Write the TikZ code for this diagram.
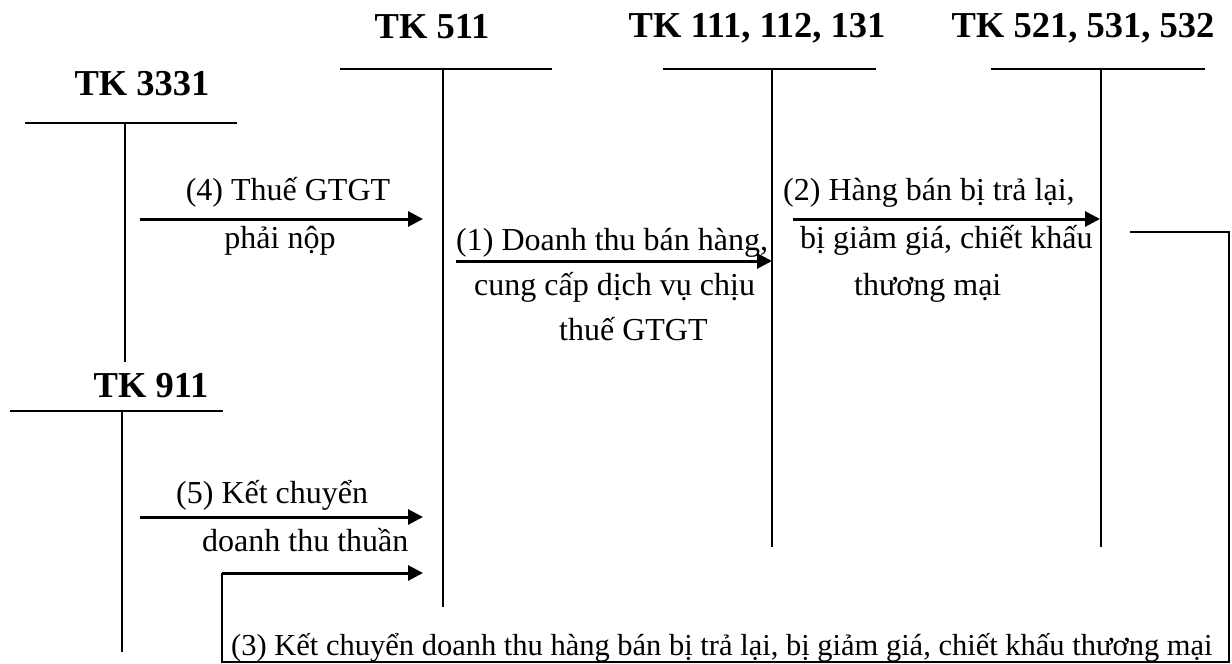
\documentclass[tikz,border=0pt]{standalone}
\usepackage{fontspec}
\setmainfont{Liberation Serif}
\usetikzlibrary{arrows.meta}
\begin{document}
\begin{tikzpicture}[x=1pt,y=-1pt,
  acct/.style={line width=2pt},
  flow/.style={line width=3pt,-{Triangle[length=15pt,width=15pt]}},
  loopline/.style={line width=2pt},
  title/.style={inner sep=0pt,anchor=base,font=\fontsize{36.5}{42}\selectfont\bfseries},
  lbl/.style={inner sep=0pt,anchor=base west,font=\fontsize{32}{38}\selectfont},
  lblc/.style={inner sep=0pt,anchor=base,font=\fontsize{32}{38}\selectfont}]
\useasboundingbox[fill=white] (0,0) rectangle (1232,664);

% account titles
\node[title] (t3331) at (142,95) {TK 3331};
\node[title] (t511)  at (432,38) {TK 511};
\node[title] (t111)  at (757,37) {TK 111, 112, 131};
\node[title] (t521)  at (1083,37) {TK 521, 531, 532};
\node[title] (t911)  at (151,397) {TK 911};

% T-accounts
\coordinate (a3331l) at (25,123);  \coordinate (a3331r) at (237,123);
\coordinate (a3331t) at (125,123); \coordinate (a3331b) at (125,362);
\coordinate (a511l) at (340,69);   \coordinate (a511r) at (552,69);
\coordinate (a511t) at (443,69);   \coordinate (a511b) at (443,607);
\coordinate (a111l) at (663,69);   \coordinate (a111r) at (876,69);
\coordinate (a111t) at (772,69);   \coordinate (a111b) at (772,547);
\coordinate (a521l) at (991,69);   \coordinate (a521r) at (1205,69);
\coordinate (a521t) at (1101,69);  \coordinate (a521b) at (1101,547);
\coordinate (a911l) at (10,411);   \coordinate (a911r) at (223,411);
\coordinate (a911t) at (122,411);  \coordinate (a911b) at (122,652);

\draw[acct] (a3331l) -- (a3331r) (a3331t) -- (a3331b);
\draw[acct] (a511l) -- (a511r) (a511t) -- (a511b);
\draw[acct] (a111l) -- (a111r) (a111t) -- (a111b);
\draw[acct] (a521l) -- (a521r) (a521t) -- (a521b);
\draw[acct] (a911l) -- (a911r) (a911t) -- (a911b);

% (4) VAT payable
\coordinate (f4s) at (140,219); \coordinate (f4e) at (423,219);
\draw[flow] (f4s) -- (f4e);
\node[lblc] (l4a) at (288,200) {(4) Thuế GTGT};
\node[lblc] (l4b) at (280,248) {phải nộp};

% (1) sales revenue
\coordinate (f1s) at (456,261); \coordinate (f1e) at (772,261);
\draw[flow] (f1s) -- (f1e);
\node[lbl] (l1a) at (456,250) {(1) Doanh thu bán hàng,};
\node[lbl] (l1b) at (474,295) {cung cấp dịch vụ chịu};
\node[lbl] (l1c) at (559,340) {thuế GTGT};

% (2) returns, allowances, discounts
\coordinate (f2s) at (793,219); \coordinate (f2e) at (1100,219);
\draw[flow] (f2s) -- (f2e);
\node[lbl] (l2a) at (783,200) {(2) Hàng bán bị trả lại,};
\node[lbl] (l2b) at (800,248) {bị giảm giá, chiết khấu};
\node[lbl] (l2c) at (854,295) {thương mại};

% (5) transfer of net revenue
\coordinate (f5s) at (140,517); \coordinate (f5e) at (423,517);
\draw[flow] (f5s) -- (f5e);
\node[lbl] (l5a) at (176,503) {(5) Kết chuyển};
\node[lbl] (l5b) at (202,551) {doanh thu thuần};

% (3) transfer of deductions back to TK 511
\coordinate (f3s) at (1130,232);
\coordinate (f3a) at (1229,232);
\coordinate (f3b) at (1229,662);
\coordinate (f3c) at (222,662);
\coordinate (f3d) at (222,573);
\coordinate (f3e) at (423,573);
\draw[loopline] (f3s) -- (f3a) -- (f3b) -- (f3c) -- (f3d);
\draw[flow] (f3d) -- (f3e);
\node[lbl,font=\fontsize{30.5}{36}\selectfont] (l3) at (231,655) {(3) Kết chuyển doanh thu hàng bán bị trả lại, bị giảm giá, chiết khấu thương mại};
\end{tikzpicture}
\end{document}
